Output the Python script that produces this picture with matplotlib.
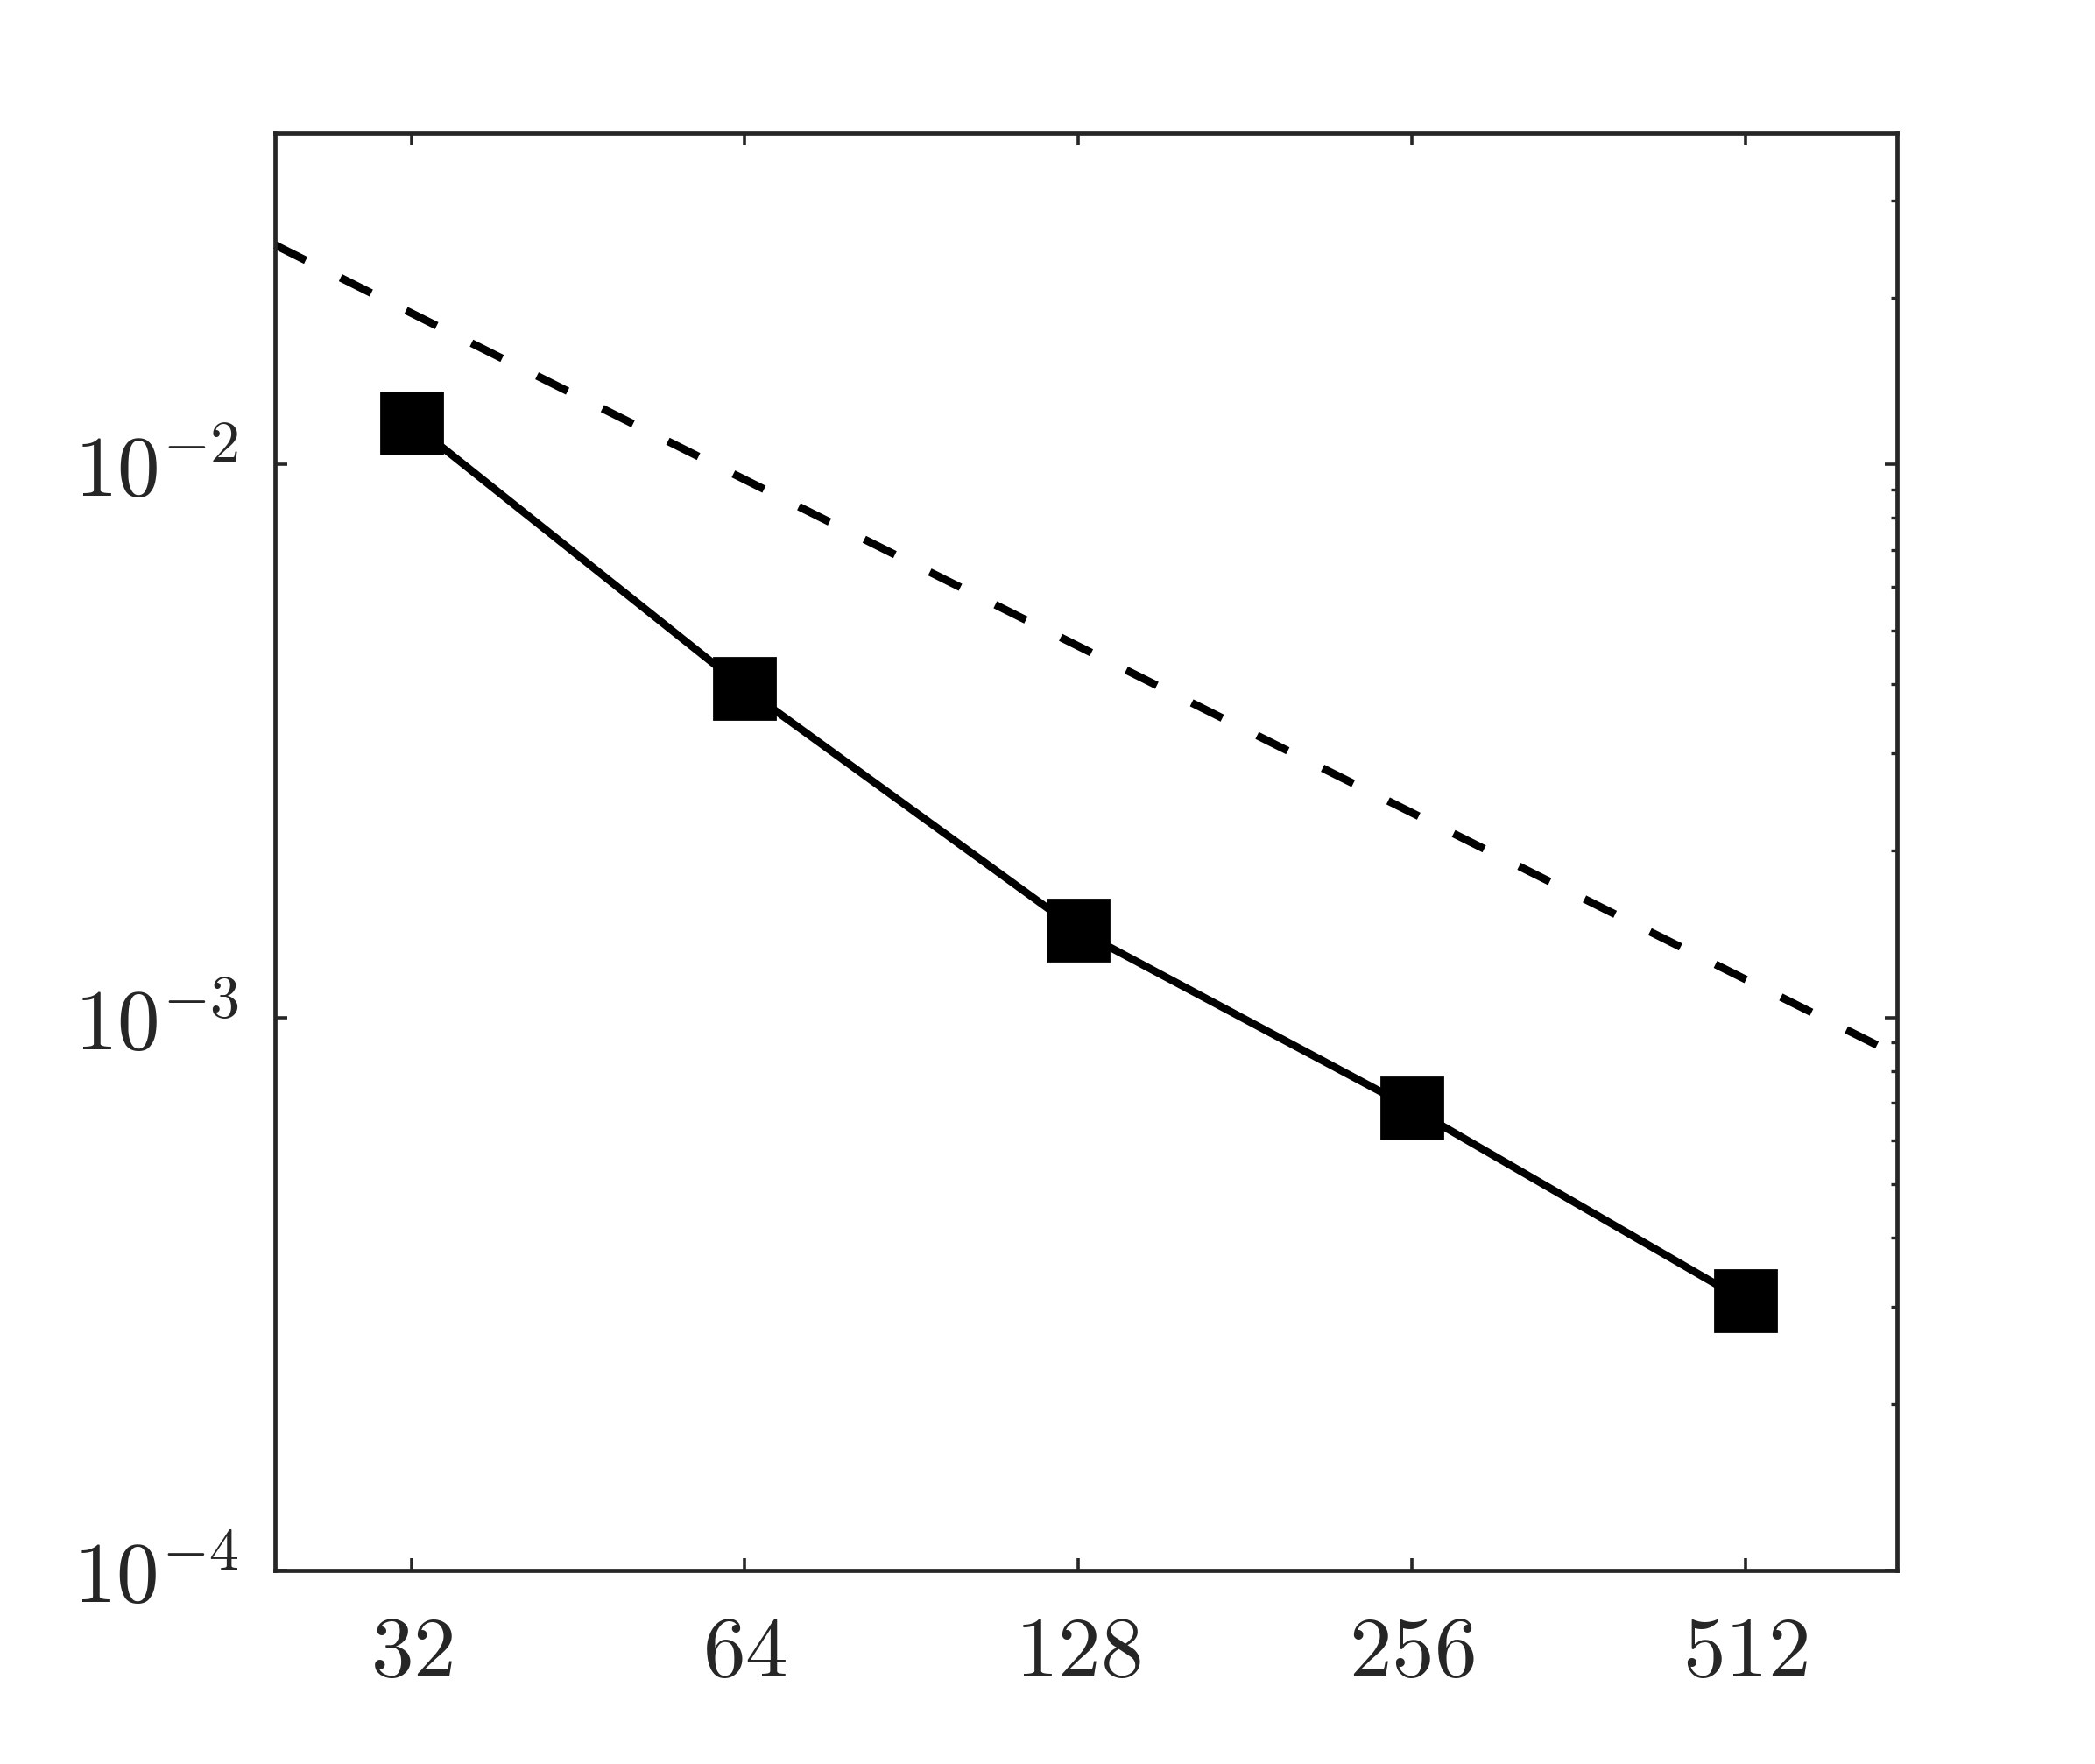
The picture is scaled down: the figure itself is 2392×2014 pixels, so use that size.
import numpy as np
import matplotlib
matplotlib.use("Agg")
import matplotlib.pyplot as plt
from matplotlib.ticker import FixedLocator, LogLocator, NullFormatter, NullLocator

# data
n_cells = [32, 64, 128, 256, 512]
error = [0.01188, 0.00393, 0.001436, 0.000685, 0.000307]
xtick_labels = ["$32$", "$64$", "$128$", "$256$", "$512$"]
yticks = [1e-4, 1e-3, 1e-2]
ytick_labels = ["$10^{-4}$", "$10^{-3}$", "$10^{-2}$"]
ref_coef = 0.6  # first order reference line: ref_coef / N

plt.rcParams["mathtext.fontset"] = "cm"
plt.rcParams["font.family"] = "serif"

edge = "#262626"

fig = plt.figure(figsize=(11.96, 10.07), dpi=200)
ax = fig.add_axes([0.1313, 0.1097, 0.9055 - 0.1313, 0.9243 - 0.1097])

xlim = (24.1, 702)
ax.set_xscale("log")
ax.set_yscale("log")
ax.set_xlim(xlim)
ax.set_ylim(1e-4, 0.0396)

xr = np.array(xlim)
ax.plot(xr, ref_coef / xr, color="black", lw=3.2, linestyle=(0, (4.4, 5.0)),
        dash_capstyle="butt", clip_on=False)
ax.plot(n_cells, error, color="black", lw=3.1, marker="s", markersize=25,
        markerfacecolor="black", markeredgecolor="black")

ax.xaxis.set_major_locator(FixedLocator(n_cells))
ax.set_xticklabels(xtick_labels)
ax.xaxis.set_minor_locator(NullLocator())
ax.yaxis.set_major_locator(FixedLocator(yticks))
ax.set_yticklabels(ytick_labels)
ax.yaxis.set_minor_locator(LogLocator(base=10, subs=np.arange(2, 10)))
ax.yaxis.set_minor_formatter(NullFormatter())

ax.tick_params(axis="both", which="both", direction="in", top=True, right=True,
               colors=edge, labelsize=35)
ax.tick_params(axis="both", which="major", length=5, width=1.3)
ax.tick_params(axis="y", which="minor", length=2.6, width=1.2, left=False, right=True)
ax.tick_params(axis="x", which="major", pad=17)
ax.tick_params(axis="y", which="major", pad=15)
for lbl in ax.get_yticklabels():
    lbl.set_verticalalignment("center_baseline")

for sp in ax.spines.values():
    sp.set_color(edge)
    sp.set_linewidth(1.7)

fig.savefig("out.png", dpi=200)
